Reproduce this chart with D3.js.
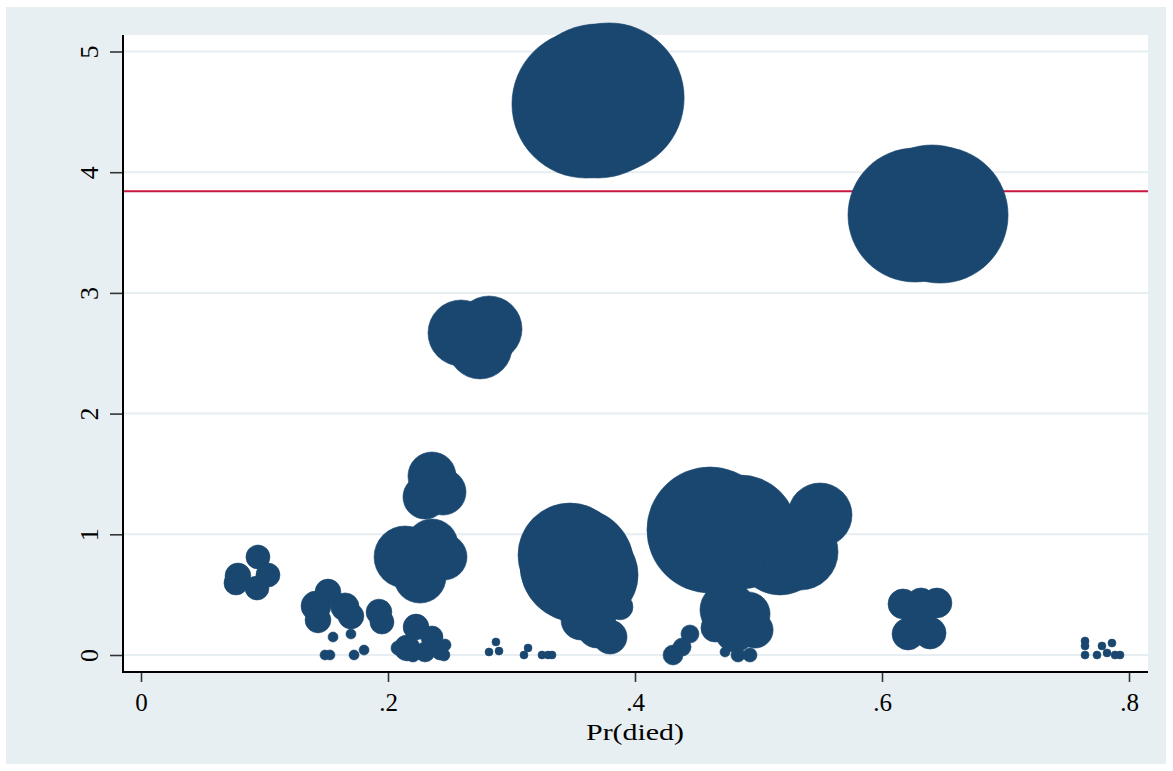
<!DOCTYPE html>
<html><head><meta charset="utf-8">
<script src="https://cdn.jsdelivr.net/npm/d3@7"></script>
<style>
body{margin:0;background:#fff}
svg{display:block}
text{font-family:"Liberation Serif","Times New Roman",serif;fill:#000}
</style>
</head><body>
<svg id="chart" width="1173" height="771"></svg>
<script>
// ---- data ----
const prDied = [
  0.3700,0.3603,0.3790,
  0.6405,0.6267,0.6470,
  0.2591,0.2818,0.2745,
  0.2356,0.2300,0.2445,
  0.2138,0.2356,0.2453,0.2259,
  0.2227,0.2154,0.2356,0.2300,0.2421,0.2462,0.2453,0.2081,0.2202,
  0.0785,0.0769,0.0947,0.1028,0.0939,
  0.1417,0.1433,0.1514,0.1652,0.1700,0.1927,0.1951,
  0.1490,0.1530,0.1555,0.1700,0.1725,0.1806,
  0.2874,0.2818,0.2899,0.3134,0.3101,0.3247,0.3296,0.3328,
  0.3474,0.3530,0.3636,0.3563,0.3692,0.3798,0.3879,0.3717,
  0.4607,0.4850,0.5174,0.5498,0.5336,
  0.4753,0.4915,0.4972,0.4810,0.4648,0.4834,0.4931,0.4729,0.4445,0.4308,0.4381,
  0.6170,0.6316,0.6445,0.6211,0.6389,0.6300,
  0.7644,0.7644,0.7644,0.7741,0.7781,0.7862,0.7822,0.7887,0.7927
];
const deltaChi2 = [
  4.590,4.565,4.615,
  3.662,3.645,3.645,
  2.668,2.701,2.552,
  1.483,1.309,1.350,
  0.812,0.911,0.812,0.646,
  0.232,0.058,0.149,0.025,0.025,0.083,0.000,0.058,0.000,
  0.655,0.597,0.812,0.663,0.555,
  0.406,0.290,0.522,0.398,0.323,0.356,0.273,
  0.000,0.000,0.149,0.174,0.000,0.041,
  0.108,0.025,0.033,0.058,0.000,0.000,0.000,0.000,
  0.828,0.746,0.663,0.290,0.224,0.149,0.398,0.373,
  1.036,1.019,0.870,1.160,0.853,
  0.373,0.340,0.207,0.191,0.224,0.000,0.000,0.025,0.174,0.000,0.066,
  0.423,0.439,0.431,0.174,0.182,0.307,
  0.116,0.075,0.000,0.000,0.075,0.099,0.017,0.000,0.000
];
const influence = [
  0.926,0.856,0.880,
  0.723,0.701,0.723,
  0.170,0.170,0.160,
  0.090,0.076,0.083,
  0.150,0.106,0.083,0.106,
  0.026,0.026,0.019,0.0156,0.010,0.0056,0.0056,0.0077,0.0077,
  0.026,0.0225,0.0225,0.0225,0.0225,
  0.035,0.026,0.026,0.031,0.026,0.026,0.0225,
  0.0039,0.0039,0.0039,0.0039,0.0039,0.0039,
  0.0025,0.0025,0.0025,0.0025,0.0025,0.0025,0.0025,0.0025,
  0.4225,0.508,0.360,0.0625,0.0625,0.045,0.026,0.051,
  0.620,0.508,0.316,0.160,0.226,
  0.1225,0.076,0.051,0.0625,0.031,0.0077,0.0077,0.0039,0.0127,0.0156,0.0127,
  0.035,0.031,0.035,0.040,0.040,0.040,
  0.0025,0.0025,0.0025,0.0025,0.0025,0.0025,0.0025,0.0025,0.0025
];
const xTicks = [0, 0.2, 0.4, 0.6, 0.8];
const xTickLabels = ["0", ".2", ".4", ".6", ".8"];
const yTicks = [0, 1, 2, 3, 4, 5];
const yTickLabels = ["0", "1", "2", "3", "4", "5"];
const refLine = [3.8415];
const xTitle = "Pr(died)";

// ---- layout ----
const outer = {x0: 6, y0: 7, x1: 1166, y1: 764};
const plot = {left: 123, right: 1148, top: 35, bottom: 672};
const navy = "#1a476f";

const svg = d3.select("#chart");
svg.append("rect").attr("x", outer.x0).attr("y", outer.y0)
  .attr("width", outer.x1 - outer.x0).attr("height", outer.y1 - outer.y0)
  .attr("fill", "#e8eff2");
svg.append("rect").attr("x", plot.left).attr("y", plot.top)
  .attr("width", plot.right - plot.left).attr("height", plot.bottom - plot.top)
  .attr("fill", "#fff");

const x = d3.scaleLinear().domain([0, 0.8]).range([141, 1129]);
const y = d3.scaleLinear().domain([0, 5]).range([655, 51.5]);
const r = d3.scaleSqrt().domain([0, 1]).range([0, 80]);

// gridlines
svg.append("g").selectAll("line").data(yTicks).join("line")
  .attr("x1", plot.left).attr("x2", plot.right)
  .attr("y1", d => y(d)).attr("y2", d => y(d))
  .attr("stroke", "#e6eef1").attr("stroke-width", 2);

// reference line
svg.append("g").selectAll("line").data(refLine).join("line")
  .attr("x1", plot.left).attr("x2", plot.right)
  .attr("y1", d => y(d)).attr("y2", d => y(d))
  .attr("stroke", "#c8163e").attr("stroke-width", 2);

// bubbles
const pts = prDied.map((p, i) => ({p, d: deltaChi2[i], w: influence[i]}));
svg.append("g").selectAll("circle").data(pts).join("circle")
  .attr("cx", d => x(d.p)).attr("cy", d => y(d.d)).attr("r", d => r(d.w))
  .attr("fill", navy).attr("stroke", navy).attr("stroke-width", 0.6);

// axes
const yAxis = d3.axisLeft(y).tickValues(yTicks).tickSize(13).tickPadding(0)
  .tickFormat((d, i) => yTickLabels[i]);
const gy = svg.append("g").attr("transform", `translate(${plot.left},0)`).call(yAxis);
gy.select(".domain").remove();
gy.selectAll(".tick line").attr("stroke", "#333").attr("stroke-width", 1.6);
gy.selectAll(".tick text")
  .attr("x", null).attr("dy", null)
  .attr("text-anchor", "middle")
  .attr("transform", "translate(-25,0) rotate(-90)")
  .attr("font-size", 26)
  .attr("font-family", "Liberation Serif, Times New Roman, serif");

const xAxis = d3.axisBottom(x).tickValues(xTicks).tickSize(10).tickPadding(0)
  .tickFormat((d, i) => xTickLabels[i]);
const gx = svg.append("g").attr("transform", `translate(0,${plot.bottom})`).call(xAxis);
gx.select(".domain").remove();
gx.selectAll(".tick line").attr("stroke", "#333").attr("stroke-width", 1.6);
gx.selectAll(".tick text")
  .attr("y", 39).attr("dy", null)
  .attr("font-size", 25)
  .attr("font-family", "Liberation Serif, Times New Roman, serif");

// axis lines
svg.append("line").attr("x1", plot.left).attr("x2", plot.left)
  .attr("y1", plot.top).attr("y2", plot.bottom + 1)
  .attr("stroke", "#000").attr("stroke-width", 2);
svg.append("line").attr("x1", plot.left - 1).attr("x2", plot.right)
  .attr("y1", plot.bottom).attr("y2", plot.bottom)
  .attr("stroke", "#000").attr("stroke-width", 2);

// axis title
svg.append("text").attr("x", x(0.4)).attr("y", 740)
  .attr("text-anchor", "middle").attr("font-size", 24)
  .attr("textLength", 98).attr("lengthAdjust", "spacingAndGlyphs")
  .text(xTitle);
</script>
</body></html>
